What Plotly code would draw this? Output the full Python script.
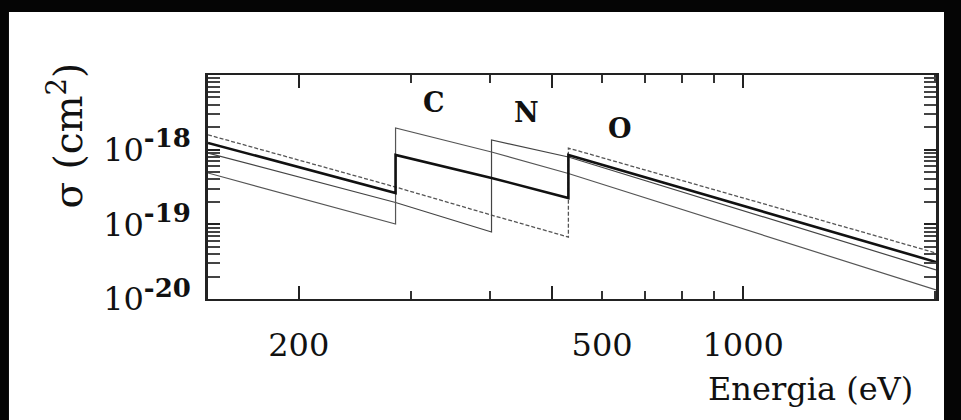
import numpy as np
import plotly.graph_objects as go

# Energy (eV) at left edge, absorption edges (pre/post) and right edge
energy = [144, 284, 284, 402, 402, 531, 531, 2010]

# Cross sections (cm^2) for the four curves
sigma_a = [1.58e-18, 3.16e-19, 3.16e-19, 1.33e-19, 1.33e-19, 6.76e-20, 1.05e-18, 4.13e-20]  # dashed (O edge only)
sigma_b = [1.23e-18, 2.63e-19, 8.49e-19, 4.18e-19, 4.18e-19, 2.25e-19, 8.49e-19, 3.13e-20]  # thick (C and O edges)
sigma_c = [9.02e-19, 1.96e-19, 1.96e-19, 7.88e-20, 1.35e-18, 7.98e-19, 7.98e-19, 2.45e-20]  # thin (N edge)
sigma_d = [4.87e-19, 1.01e-19, 1.95e-18, 9.31e-19, 9.31e-19, 4.80e-19, 4.80e-19, 1.32e-20]  # thin (C edge)

edge_labels = ["C", "N", "O"]
edge_label_energy = [326, 456, 641]
edge_label_sigma = [4.22e-18, 3.16e-18, 1.95e-18]

x_major = [200, 500, 1000]
x_minor = [300, 400, 600, 700, 800, 900, 2000]
x_label_vals = [200, 600, 1000]
x_label_text = ["200", "500", "1000"]

y_major = [1e-20, 1e-19, 1e-18]
y_exponents = ["-20", "-19", "-18"]
y_major_text = ["10<sup><span style='font-size:26px'><b>%s</b></span></sup>" % e
                for e in y_exponents]
y_minor = [k * 10.0 ** n for n in (-20, -19, -18) for k in range(2, 10)]

FONT = "DejaVu Serif"

fig = go.Figure()
styles = [
    (sigma_a, dict(color="#555555", width=1.3, dash="4px,2px")),
    (sigma_c, dict(color="#444444", width=1.2)),
    (sigma_d, dict(color="#555555", width=1.2)),
    (sigma_b, dict(color="#111111", width=2.6)),
]
for s, ln in styles:
    fig.add_trace(go.Scatter(x=energy, y=s, mode="lines", line=ln,
                             showlegend=False, hoverinfo="skip"))

# transparent copy on the label axis so that it is drawn
fig.add_trace(go.Scatter(x=energy, y=sigma_b, xaxis="x2", mode="lines",
                         line=dict(width=0, color="rgba(0,0,0,0)"),
                         showlegend=False, hoverinfo="skip"))

for t, e, s in zip(edge_labels, edge_label_energy, edge_label_sigma):
    fig.add_annotation(x=np.log10(e), y=np.log10(s), xref="x", yref="y",
                       text="<b>%s</b>" % t, showarrow=False,
                       font=dict(family=FONT, size=27, color="#111111"))

fig.add_annotation(x=0.971, y=-0.40, xref="paper", yref="paper",
                   text="Energia (eV)", showarrow=False,
                   xanchor="right", yanchor="middle",
                   font=dict(family=FONT, size=32, color="#111111"))
fig.add_annotation(x=-0.195, y=0.73, xref="paper", yref="paper",
                   text="σ (cm<sup>2</sup>)", showarrow=False, textangle=-90,
                   xanchor="center", yanchor="middle",
                   font=dict(family=FONT, size=39, color="#111111"))

# white page area inside the dark scan border
fig.add_shape(type="rect", xref="paper", yref="paper",
              x0=-0.2734, x1=1.011, y0=-0.6, y1=1.281,
              fillcolor="white", line=dict(width=0), layer="below")

xrange = [np.log10(144), np.log10(2010)]
fig.update_layout(
    width=961, height=420,
    margin=dict(l=208, r=25, t=75, b=121),
    paper_bgcolor="#050505", plot_bgcolor="white",
    xaxis=dict(type="log", range=xrange, tickmode="array", tickvals=x_major,
               showticklabels=False, ticks="inside", ticklen=13, tickwidth=2,
               tickcolor="#222222", showline=True, linecolor="#222222",
               linewidth=2, mirror="allticks", showgrid=False, zeroline=False,
               minor=dict(tickmode="array", tickvals=x_minor, ticks="inside",
                          ticklen=8, tickwidth=1.5, tickcolor="#333333",
                          showgrid=False)),
    xaxis2=dict(type="log", range=xrange, overlaying="x", anchor="y",
                side="bottom", tickmode="array", tickvals=x_label_vals,
                ticktext=x_label_text, ticks="", showline=False,
                showgrid=False, zeroline=False, ticklabelstandoff=24,
                tickfont=dict(family=FONT, size=32, color="#111111")),
    yaxis=dict(type="log", range=[-20, -17], tickmode="array",
               tickvals=y_major, ticktext=y_major_text, ticks="inside",
               ticklen=12, tickwidth=2, tickcolor="#222222",
               showline=True, linecolor="#222222", linewidth=2.5,
               mirror="allticks", showgrid=False, zeroline=False,
               ticklabelstandoff=8,
               tickfont=dict(family=FONT, size=32, color="#111111"),
               minor=dict(tickmode="array", tickvals=y_minor, ticks="inside",
                          ticklen=6, tickwidth=1.5, tickcolor="#444444",
                          showgrid=False)),
)

fig.write_html("out.html", config={"displayModeBar": False},
               post_script="document.body.style.margin='0';"
                           "document.body.style.background='#050505';")
